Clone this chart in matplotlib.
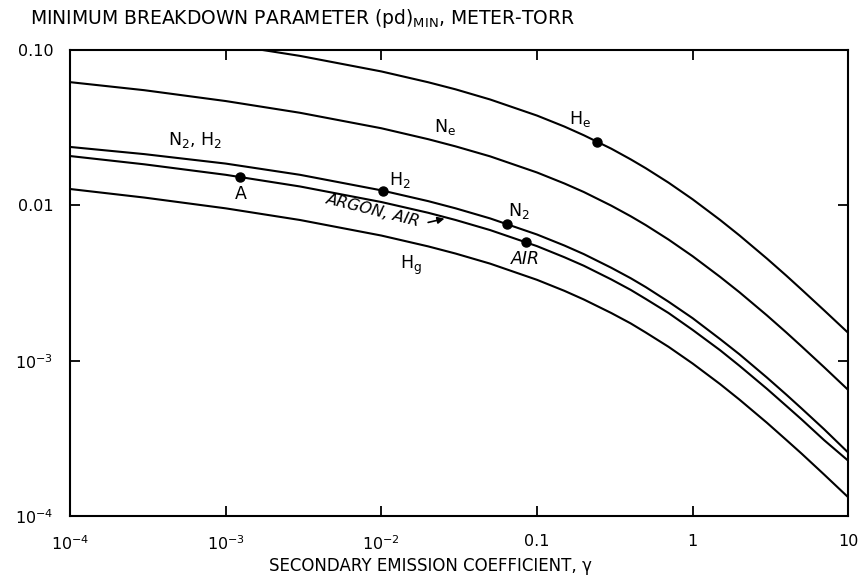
import numpy as np
import matplotlib
matplotlib.use("Agg")
from matplotlib import pyplot as plt

plt.rcParams['font.family'] = ['DejaVu Sans']

# secondary emission coefficient (x) read points
gamma = [1e-4, 3e-4, 1e-3, 3e-3, 0.01, 0.02, 0.03, 0.05, 0.1, 0.15, 0.2, 0.3,
         0.4, 0.5, 0.7, 1, 1.5, 2, 3, 4, 5, 7, 10]

# (pd)min, meter-torr, for each gas
he = [None, None, 0.1092, 0.0918, 0.0729, 0.0621, 0.0559, 0.0481, 0.0379, 0.0322, 0.0283, 0.0232,
      0.0198, 0.01736, 0.01402, 0.01095, 0.00807, 0.00641, 0.00455, 0.00353, 0.00288, 0.00211, 0.00151]
ne = [0.0622, 0.0552, 0.0470, 0.0395, 0.0314, 0.0267, 0.0240, 0.0207, 0.0163, 0.01385, 0.0122, 0.00997,
      0.00852, 0.00747, 0.00603, 0.00471, 0.00347, 0.00276, 0.00196, 0.00152, 0.00124, 0.000908, 0.000648]
n2_h2 = [0.0238, 0.0214, 0.0186, 0.01575, 0.01251, 0.01066, 0.00958, 0.00825, 0.0065, 0.00552, 0.00486, 0.00397,
         0.0034, 0.00298, 0.0024, 0.00188, 0.00138, 0.0011, 0.00078, 0.000605, 0.000494, 0.000362, 0.000256]
argon_air = [0.0208, 0.0184, 0.01575, 0.01325, 0.01052, 0.00897, 0.00806, 0.00694, 0.00547, 0.00464, 0.00409, 0.00334,
             0.00286, 0.0025, 0.00203, 0.00158, 0.00117, 0.000928, 0.00066, 0.000512, 0.00042, 0.000308, 0.000227]
hg = [0.01276, 0.01124, 0.00958, 0.00806, 0.0064, 0.00545, 0.0049, 0.00422, 0.00332, 0.00282, 0.00248, 0.00203,
      0.00174, 0.00152, 0.00123, 0.00096, 0.000708, 0.000562, 0.000399, 0.000309, 0.000253, 0.000185, 0.000132]

# marked points: A, H2, N2, AIR, He
pt_gamma = [1.245e-3, 0.0102, 0.0643, 0.0847, 0.2415]
pt_pd = [0.0152, 0.01246, 0.00757, 0.00579, 0.0258]

xticks = [1e-4, 1e-3, 1e-2, 0.1, 1, 10]
xticklabels = ["10$^{-4}$", "10$^{-3}$", "10$^{-2}$", "0.1", "1", "10"]
yticks = [1e-4, 1e-3, 1e-2, 0.1]
yticklabels = ["10$^{-4}$", "10$^{-3}$", "0.01", "0.10"]

fig = plt.figure(figsize=(8.6, 5.76), dpi=100)
ax = fig.add_axes([0.0814, 0.104, 0.905, 0.809])

for ys in [he, ne, n2_h2, argon_air, hg]:
    xs = [g for g, v in zip(gamma, ys) if v is not None]
    vs = [v for v in ys if v is not None]
    ax.plot(xs, vs, color='k', lw=1.5, solid_joinstyle='round')

ax.plot(pt_gamma, pt_pd, 'o', color='k', ms=6.5)

ax.set_xscale('log')
ax.set_yscale('log')
ax.set_xlim(1e-4, 10)
ax.set_ylim(1e-4, 0.1)
ax.set_xticks(xticks)
ax.set_xticklabels(xticklabels)
ax.set_yticks(yticks)
ax.set_yticklabels(yticklabels)
ax.minorticks_off()
ax.tick_params(which='both', direction='in', length=7, width=1.3,
               top=True, right=True, labelsize=11.5)
ax.tick_params(axis='y', pad=12)
ax.tick_params(axis='x', pad=13)
for s in ax.spines.values():
    s.set_linewidth(1.5)

# curve labels
fs = 12.5
ax.text(6.4e-4, 0.0264, "N$_2$, H$_2$", ha='center', va='center', fontsize=fs)
ax.text(1.26e-3, 0.0119, "A", ha='center', va='center', fontsize=fs)
ax.text(0.0112, 0.0146, "H$_\\mathrm{2}$", ha='left', va='center', fontsize=fs)
ax.text(0.0258, 0.0318, "N$_\\mathrm{e}$", ha='center', va='center', fontsize=fs)
ax.text(0.19, 0.0362, "H$_\\mathrm{e}$", ha='center', va='center', fontsize=fs)
ax.text(0.077, 0.0092, "N$_2$", ha='center', va='center', fontsize=fs)
ax.text(0.0843, 0.0045, "AIR", ha='center', va='center', fontsize=fs, style='italic')
ax.text(0.0154, 0.0041, "H$_\\mathrm{g}$", ha='center', va='center', fontsize=fs)
ax.text(0.0089, 0.0093, "ARGON, AIR", ha='center', va='center', fontsize=11.5,
        style='italic', rotation=-14)
ax.annotate("", xy=(0.0265, 0.0083), xytext=(0.0192, 0.0077),
            arrowprops=dict(arrowstyle='-|>', color='k', lw=1.2, mutation_scale=10))

fig.text(0.035, 0.968, "MINIMUM BREAKDOWN PARAMETER (pd)$_{\\mathrm{MIN}}$, METER-TORR",
         ha='left', va='center', fontsize=13.5)
fig.text(0.5, 0.018, "SECONDARY EMISSION COEFFICIENT, γ",
         ha='center', va='center', fontsize=12)

fig.savefig("out.png", dpi=100)
